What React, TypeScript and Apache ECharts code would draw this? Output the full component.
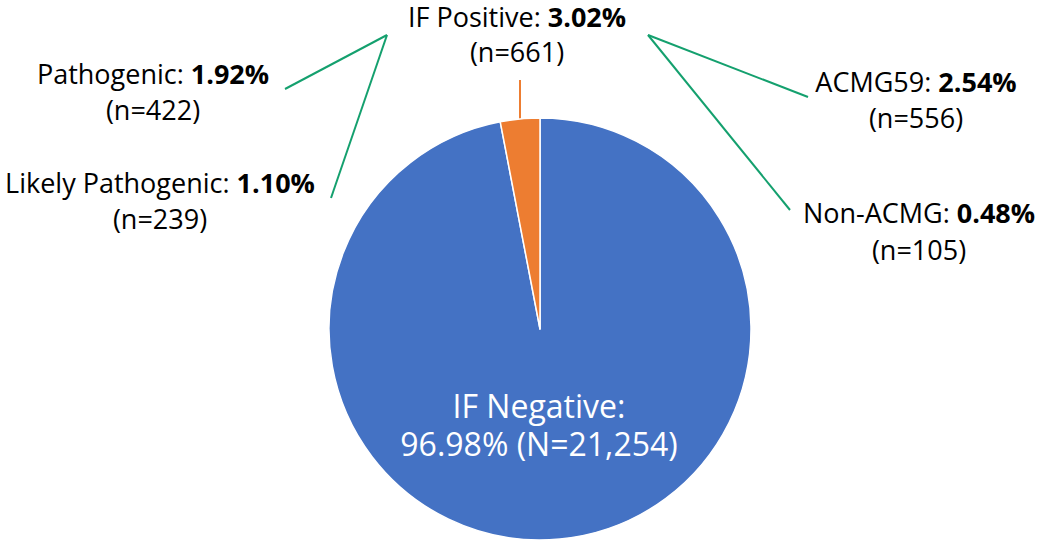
import React, { useEffect, useRef } from "react";
import * as echarts from "echarts";

const sliceNames = ["IF Negative", "IF Positive"];
const sliceCounts = [21254, 661];
const sliceColors = ["#4472C4", "#ED7D31"];

const subNames = ["Pathogenic", "Likely Pathogenic", "ACMG59", "Non-ACMG"];
const subPercents = ["1.92%", "1.10%", "2.54%", "0.48%"];
const subCounts = ["422", "239", "556", "105"];

const FONT = "'Open Sans'";

export default function App() {
  const ref = useRef<HTMLDivElement>(null);
  useEffect(() => {
    document.body.style.margin = "0";
    const chart = echarts.init(ref.current!, null, { renderer: "svg" });
    const total = sliceCounts.reduce((a, b) => a + b, 0);
    const pct = (v: number) => ((v / total) * 100).toFixed(2) + "%";
    const fmt = (v: number) => v.toLocaleString("en-US");
    const fs = 27;
    const lh = 30;
    const rich = {
      a: { fontFamily: FONT, fontSize: fs, lineHeight: lh, fill: "#000", color: "#000" },
      b: { fontFamily: FONT, fontSize: fs, lineHeight: lh, fontWeight: "bold", fill: "#000", color: "#000" },
    };
    const twoLine = (x: number, y1: number, y2: number, name: string, p: string, n: string) => [
      {
        type: "text",
        x,
        y: y1,
        style: {
          text: `{a|${name}: }{b|${p}}`,
          rich,
          align: "center",
          verticalAlign: "middle",
          font: `${fs}px ${FONT}`,
          lineHeight: lh,
        },
      },
      {
        type: "text",
        x,
        y: y2,
        style: {
          text: `(n=${n})`,
          fill: "#000",
          align: "center",
          verticalAlign: "middle",
          font: `${fs}px ${FONT}`,
          lineHeight: lh,
        },
      },
    ];
    const green = { stroke: "#14A06E", lineWidth: 2 };
    const graphic: any[] = [
      ...twoLine(517, 16, 51, sliceNames[1], pct(sliceCounts[1]), fmt(sliceCounts[1])),
      ...twoLine(153, 73, 109, subNames[0], subPercents[0], subCounts[0]),
      ...twoLine(160, 182, 218, subNames[1], subPercents[1], subCounts[1]),
      ...twoLine(916, 81, 117, subNames[2], subPercents[2], subCounts[2]),
      ...twoLine(919, 212, 249, subNames[3], subPercents[3], subCounts[3]),
      { type: "line", shape: { x1: 387, y1: 35, x2: 285, y2: 89 }, style: green },
      { type: "line", shape: { x1: 387, y1: 35, x2: 331, y2: 198 }, style: green },
      { type: "line", shape: { x1: 648, y1: 35, x2: 808, y2: 97 }, style: green },
      { type: "line", shape: { x1: 648, y1: 35, x2: 790, y2: 210 }, style: green },
      { type: "line", shape: { x1: 520, y1: 80, x2: 520, y2: 119 }, style: { stroke: "#ED7D31", lineWidth: 2 } },
      {
        type: "text",
        x: 539,
        y: 424,
        z: 10,
        style: {
          text: `${sliceNames[0]}:\n${pct(sliceCounts[0])} (N=${fmt(sliceCounts[0])})`,
          fill: "#fff",
          align: "center",
          verticalAlign: "middle",
          font: `32px ${FONT}`,
          lineHeight: 38,
        },
      },
    ];
    chart.setOption({
      animation: false,
      graphic,
      series: [
        {
          type: "pie",
          center: [540, 329],
          radius: 211,
          startAngle: 90,
          clockwise: true,
          label: { show: false },
          labelLine: { show: false },
          itemStyle: { borderColor: "#fff", borderWidth: 1.5 },
          data: sliceNames.map((n, i) => ({ name: n, value: sliceCounts[i], itemStyle: { color: sliceColors[i] } })),
        },
      ],
    });
    return () => chart.dispose();
  }, []);
  return <div ref={ref} style={{ width: 1050, height: 546 }} />;
}
